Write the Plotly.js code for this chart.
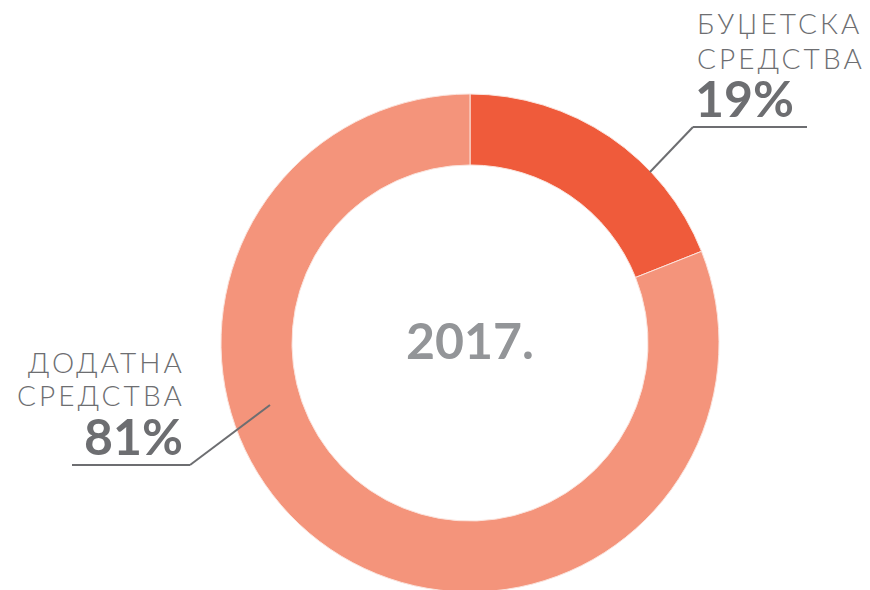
<!DOCTYPE html>
<html><head><meta charset="utf-8">
<script src="https://cdn.plot.ly/plotly-3.0.1.min.js"></script>
<style>html,body{margin:0;padding:0;overflow:hidden;background:#fff}</style>
</head><body><div id="chart"></div>
<script>
const categories = ["БУЏЕТСКА СРЕДСТВА", "ДОДАТНА СРЕДСТВА"];
const values = [19, 81];
const percentLabels = ["19%", "81%"];
const labelLines = [["БУЏЕТСКА", "СРЕДСТВА"], ["ДОДАТНА", "СРЕДСТВА"]];
const yearLabel = "2017.";
const colors = ["#EF5B3B", "#F4947B"];

const W = 870, H = 600;
const px = x => x / W;
const py = y => (H - y) / H;
const gray = "#6D6E71";
const lightFont = {family: "Lato, 'Open Sans', sans-serif", size: 28, color: gray, weight: 300};
const boldFont = {family: "Lato, 'Open Sans', sans-serif", size: 50, color: gray, weight: 900};
const spaced = t => '<span style="letter-spacing:3.1px">' + t + '</span>';

const annotations = [
  {x: px(695), y: py(23), xanchor: "left", yanchor: "middle", text: spaced(labelLines[0][0]), font: lightFont},
  {x: px(695), y: py(58), xanchor: "left", yanchor: "middle", text: spaced(labelLines[0][1]), font: lightFont},
  {x: px(693), y: py(98), xanchor: "left", yanchor: "middle", text: "<b>" + percentLabels[0] + "</b>", font: boldFont},
  {x: px(187), y: py(362), xanchor: "right", yanchor: "middle", text: spaced(labelLines[1][0]), font: lightFont},
  {x: px(187), y: py(395), xanchor: "right", yanchor: "middle", text: spaced(labelLines[1][1]), font: lightFont},
  {x: px(185), y: py(436), xanchor: "right", yanchor: "middle", text: "<b>" + percentLabels[1] + "</b>", font: boldFont},
  {x: px(470), y: py(340), xanchor: "center", yanchor: "middle", text: "<b>" + yearLabel + "</b>",
   font: {family: "Lato, 'Open Sans', sans-serif", size: 50, color: "#939598", weight: 900}}
].map(a => Object.assign({xref: "paper", yref: "paper", showarrow: false}, a));

const lineStyle = {color: gray, width: 2};
const shapes = [
  {type: "line", x0: px(807), y0: py(127), x1: px(693), y1: py(127)},
  {type: "line", x0: px(693), y0: py(127), x1: px(650), y1: py(172)},
  {type: "line", x0: px(72), y0: py(465), x1: px(190), y1: py(465)},
  {type: "line", x0: px(190), y0: py(465), x1: px(270), y1: py(405)}
].map(s => Object.assign({xref: "paper", yref: "paper", line: lineStyle}, s));

Plotly.newPlot("chart", [{
  type: "pie",
  labels: categories,
  values: values,
  hole: 0.715,
  sort: false,
  direction: "clockwise",
  rotation: 0,
  textinfo: "none",
  hoverinfo: "label+percent",
  marker: {colors: colors, line: {color: "#FBE3DC", width: 1}},
  domain: {x: [px(221), px(719)], y: [py(592), py(94)]},
  showlegend: false
}], {
  width: W, height: H,
  margin: {l: 0, r: 0, t: 0, b: 0},
  paper_bgcolor: "#fff",
  annotations: annotations,
  shapes: shapes
}, {displayModeBar: false, staticPlot: true});
</script></body></html>
